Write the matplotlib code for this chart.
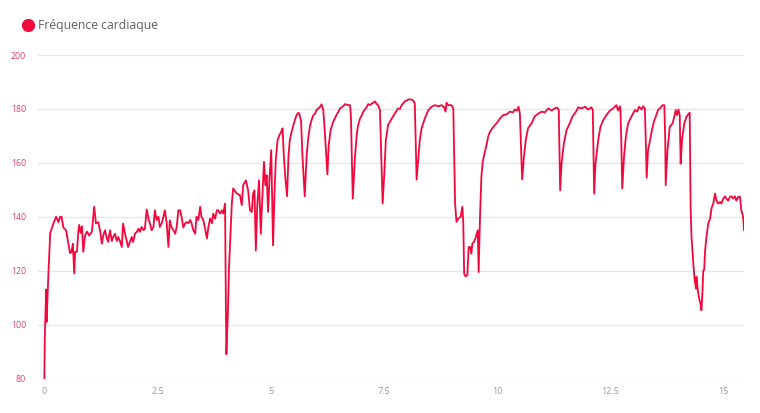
import matplotlib
matplotlib.use('agg')
import matplotlib.pyplot as plt
from matplotlib.lines import Line2D

plt.rcParams['font.family'] = ['Open Sans', 'DejaVu Sans']

# distance (km) and heart rate (bpm)
distance_km = [
    0.00, 0.01, 0.04, 0.05, 0.09, 0.13, 0.20, 0.26, 0.31, 0.35, 0.38, 0.42,
    0.48, 0.53, 0.57, 0.60, 0.63, 0.66, 0.68, 0.72, 0.75, 0.77, 0.80, 0.83,
    0.86, 0.90, 0.94, 0.99, 1.05, 1.08, 1.10, 1.14, 1.19, 1.23, 1.27, 1.30,
    1.34, 1.38, 1.41, 1.45, 1.49, 1.52, 1.56, 1.60, 1.63, 1.67, 1.71, 1.74,
    1.78, 1.82, 1.85, 1.89, 1.93, 1.96, 2.00, 2.04, 2.08, 2.11, 2.15, 2.19,
    2.22, 2.26, 2.30, 2.33, 2.37, 2.41, 2.44, 2.48, 2.52, 2.55, 2.59, 2.63,
    2.66, 2.70, 2.74,
    2.77, 2.81, 2.85, 2.89, 2.92, 2.96, 3.00, 3.03, 3.07, 3.11, 3.14, 3.18,
    3.22, 3.25, 3.29, 3.33, 3.36, 3.40, 3.44, 3.47, 3.51, 3.55, 3.59, 3.62,
    3.66, 3.70, 3.73, 3.77, 3.81, 3.84, 3.88, 3.92, 3.95, 3.99, 4.01, 4.02,
    4.05, 4.08, 4.14, 4.17,
    4.25, 4.32, 4.36, 4.39, 4.45, 4.47, 4.50, 4.54, 4.58, 4.61, 4.64, 4.67,
    4.70, 4.74, 4.78, 4.81, 4.85, 4.88, 4.91, 4.94, 4.97, 5.01, 5.05, 5.08,
    5.11, 5.15, 5.19, 5.23, 5.26, 5.29, 5.32, 5.36, 5.39, 5.42, 5.46, 5.50,
    5.53, 5.57, 5.61, 5.64, 5.67, 5.70, 5.75, 5.79, 5.83, 5.87, 5.90, 5.94,
    5.98, 6.01, 6.05, 6.09, 6.12, 6.16, 6.20, 6.25, 6.28, 6.32, 6.38, 6.45,
    6.49, 6.53, 6.60, 6.64, 6.71, 6.75, 6.77, 6.79, 6.81, 6.86, 6.90, 6.93,
    6.97, 7.01, 7.04, 7.12, 7.15, 7.19, 7.23, 7.26, 7.30, 7.34, 7.37, 7.41,
    7.44, 7.47, 7.51, 7.54, 7.59, 7.67, 7.74, 7.81, 7.85, 7.89, 7.96, 8.04,
    8.11, 8.15, 8.18, 8.20, 8.22, 8.26, 8.29, 8.33, 8.40, 8.48, 8.55, 8.62,
    8.70, 8.77, 8.82, 8.86, 8.88, 8.92, 8.99, 9.03, 9.05, 9.07, 9.10, 9.14,
    9.19, 9.23, 9.25, 9.27, 9.30, 9.34, 9.37, 9.40, 9.43, 9.45, 9.49, 9.53,
    9.57, 9.59, 9.62, 9.65, 9.68, 9.71, 9.77, 9.80, 9.84, 9.89, 9.95, 10.00,
    10.06,
    10.13, 10.21, 10.28, 10.35, 10.39, 10.44, 10.47, 10.50, 10.52, 10.55,
    10.59, 10.63, 10.68, 10.76, 10.83, 10.91, 10.98, 11.05, 11.13, 11.20,
    11.27, 11.32, 11.36, 11.37, 11.39, 11.42, 11.47, 11.53, 11.60, 11.66,
    11.74, 11.79, 11.86, 11.94, 12.01, 12.08, 12.11, 12.12, 12.14, 12.17,
    12.23, 12.28, 12.34, 12.41, 12.49, 12.56, 12.63, 12.67, 12.71, 12.72,
    12.74, 12.76, 12.80, 12.84, 12.89, 12.94, 13.00, 13.04, 13.09, 13.13,
    13.19, 13.22, 13.26, 13.28, 13.30, 13.33, 13.39, 13.42, 13.46, 13.50,
    13.55, 13.61, 13.65, 13.69, 13.71, 13.72, 13.76, 13.81, 13.87, 13.91,
    13.94, 13.97, 14.00, 14.03, 14.05, 14.08, 14.13, 14.18, 14.22, 14.25,
    14.27, 14.29, 14.33, 14.36, 14.39, 14.40, 14.43, 14.46, 14.49, 14.51,
    14.53, 14.55, 14.57, 14.59, 14.62, 14.66, 14.70, 14.73, 14.77, 14.81,
    14.84, 14.88, 14.92, 14.95, 14.99, 15.03, 15.06, 15.10, 15.14, 15.17,
    15.21, 15.25, 15.28, 15.32, 15.36, 15.39, 15.43, 15.45,
]

heart_rate = [
    80, 95, 113, 101, 119, 134, 137.5, 140, 138, 140, 140, 136,
    135, 130, 126.5, 127, 130, 119, 127, 127, 134.5, 137, 134, 136.5,
    127, 133, 134.5, 133, 134.5, 140, 143.7, 137.5, 138, 135, 130, 133,
    135, 132, 130.7, 135, 131, 132.5, 133.7, 131, 132.5, 131, 128.8, 137.5,
    133.7, 131, 128.8, 130.6, 132.5, 130.6, 133.7, 134.4, 135.6, 134.4, 136.2, 135,
    135.6, 142.7, 139.3, 137.6, 135, 136.2, 142.4, 138.8, 140, 136.2, 137.6, 140,
    142.4, 138, 128.8,
    138.7, 136, 135, 133.7, 136, 142.4, 142.4, 140, 136, 137.6, 138, 137.6,
    138.8, 137.6, 135, 133.7, 140, 138.8, 143.7, 140, 138.8, 135.6, 132, 136,
    139.3, 137.6, 141.2, 139.3, 142.4, 142.4, 141.2, 142.4, 141.2, 144.9, 104, 89,
    103, 122, 145, 150.5,
    148.6, 148, 144.3, 151.7, 153.5, 152, 149.8, 142.4, 141.8, 148.6, 149.8, 127.5,
    143.6, 153.5, 133.7, 146, 160.4, 151.7, 155.4, 141.8, 153.5, 164.7, 129.4, 147.5,
    161, 168.4, 170.3, 171.5, 172.8, 162.3, 154.8, 147.6, 162.3, 168.4, 171.5, 174,
    175.8, 177.7, 178.6, 177.7, 175.3, 162.3, 147.6, 162.3, 169.7, 174, 175.8, 177.7,
    178.3, 179.6, 180.2, 180.8, 181.7, 179.6, 169.7, 155.7, 166.6, 172.1, 175.3, 177.7,
    178.9, 180.2, 181, 181.8, 181.4, 181.4, 177.1, 162.3, 146.7, 162.3, 170.9, 174,
    176.4, 177.7, 178.9, 180.8, 181.8, 181.4, 182, 182.3, 182.8, 181.8, 181.4, 179.6,
    162.3, 144.9, 157.3, 168.4, 174, 176.4, 178.3, 180.2, 180, 181.4, 182.8, 183.5,
    183.5, 183, 182, 168.4, 153.8, 162.3, 168.4, 172.8, 176.4, 179.6, 180.8, 181.4,
    181, 181.4, 180.8, 179, 182.3, 181.4, 181.4, 180.2, 162.3, 144.9, 138.1, 139.3,
    140, 143.7, 138.1, 118.9, 117.9, 118.3, 128.8, 128.8, 126.3, 130, 130.7, 132.6,
    135, 119.5, 140, 154.8, 160.4, 162.8, 167.1, 169.7, 171.5, 172.8, 174, 175,
    176.4,
    177.7, 178, 179, 178.7, 179.8, 179.4, 180.8, 178.3, 168.4, 153.8,
    162.3, 168.4, 172.8, 174.7, 177.3, 178.3, 179, 178.7, 180.2, 179.4,
    180.2, 180.5, 179.6, 168.4, 149.8, 159.7, 167.1, 172.1, 174.6, 177.1,
    179, 180.6, 180.2, 180.8, 179.8, 180.6, 179.6, 168.4, 148.6, 159.7,
    168.4, 173.4, 175.8, 177.7, 179.4, 180.2, 181.4, 179.4, 181, 179.6,
    168.4, 150.5, 162.3, 169.7, 174.6, 176.4, 178.3, 179.6, 179, 180.8,
    179.8, 181, 180.2, 168.4, 154.5, 164.7, 169.7, 172.5, 175.3, 177.1,
    179.6, 180.5, 181.4, 181.4, 168.4, 151.7, 164.7, 173.4, 174.6, 177.1,
    179.6, 177.7, 179.8, 177.7, 159.7, 168.4, 174.6, 177.1, 178, 178.6,
    143.7, 132.5, 122.6, 116.4, 113.3, 117.7, 112.7, 109.6, 107.7, 105.3,
    111.5, 120.1, 120.3, 127.5, 132.5, 137.5, 139.3, 143, 144.9, 148.6,
    146, 144.9, 145.5, 144.9, 146.7, 147.6, 146.7, 146, 147.4, 147.6,
    146.7, 147.6, 146, 147.4, 147.4, 142.4, 140, 135,
]

x_ticks = [0, 2.5, 5, 7.5, 10, 12.5, 15]
x_tick_labels = ['0', '2.5', '5', '7.5', '10', '12.5', '15']
y_ticks = [80, 100, 120, 140, 160, 180, 200]
series_name = 'Fréquence cardiaque'

line_color = '#f4073d'

fig = plt.figure(figsize=(7.6, 4.13), dpi=100)
ax = fig.add_axes([0.050, 0.0835, 0.929, 0.7833])

ax.plot(distance_km, heart_rate, color=line_color, lw=1.3,
        solid_joinstyle='round', zorder=3)

ax.set_xlim(-0.14, 15.45)
ax.set_ylim(80, 200)
ax.set_xticks(x_ticks)
ax.set_xticklabels(x_tick_labels)
ax.set_yticks(y_ticks)

ax.grid(axis='y', color='#e6e6e6', lw=0.9)
ax.set_axisbelow(True)
for s in ax.spines.values():
    s.set_visible(False)

ax.tick_params(axis='y', length=0, pad=8.5, labelsize=6.3,
               labelcolor='#e34069')
ax.tick_params(axis='x', length=0, pad=6, labelsize=6.5,
               labelcolor='#969696')

handle = Line2D([], [], ls='none', marker='o', markersize=8.5,
                markerfacecolor=line_color, markeredgecolor=line_color)
fig.legend([handle], [series_name], loc='center left',
           bbox_to_anchor=(0.030, 0.938), frameon=False, handlelength=0.9,
           handletextpad=0.35, borderaxespad=0, borderpad=0,
           fontsize=8.8, labelcolor='#606060')

fig.savefig('out.png', dpi=100)
